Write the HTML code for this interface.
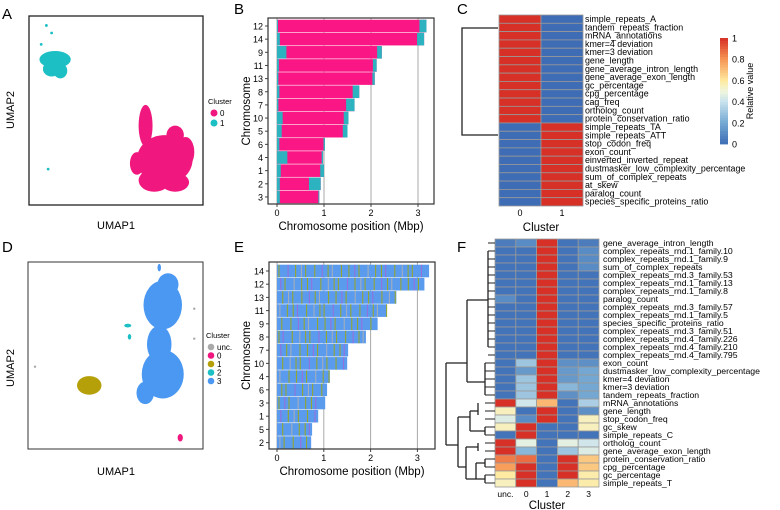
<!DOCTYPE html>
<html><head><meta charset="utf-8">
<style>
html,body{margin:0;padding:0;background:#fff;}
svg{display:block;font-family:"Liberation Sans",Arial,sans-serif;}
</style></head>
<body>
<svg id="fig" width="780" height="510" viewBox="0 0 780 510" xmlns="http://www.w3.org/2000/svg">
<g id="pA"></g>
<g id="pB"></g>
<g id="pC"></g>
<g id="pD"></g>
<g id="pE"></g>
<g id="pF"></g>
</svg>
<script>
const NS="http://www.w3.org/2000/svg";
function mk(p,tag,at,txt){const e=document.createElementNS(NS,tag);for(const k in at)e.setAttribute(k,at[k]);if(txt!==undefined)e.textContent=txt;p.appendChild(e);return e;}

// ---------- data ----------
const clusterColA=["#F0187E","#1BBFC4"];
const blobsA0=[[78,24,16,13],[67,42,4,11],[84,37,5,5],[72,13,9,6],[84,12,8,5],[62,22,4,6],[90,28,5,8]];
const blobsA1=[[15,77,9,4.5],[13,72,5,4],[18,71,4,4]];
const dotsA1=[[10,95],[13,91],[7,85],[11,19]];

const chromB=["12","14","9","11","13","8","7","10","5","6","4","1","2","3"];
const lenB=[3.18,3.13,2.23,2.12,2.08,1.75,1.65,1.52,1.5,1.02,0.98,1.0,0.93,0.9];
const cyanStartB=[0.02,0.06,0.2,0.04,0.03,0.05,0.03,0.12,0.1,0.05,0.22,0.08,0.06,0.06];
const cyanEndB=[0.15,0.15,0.1,0.08,0.05,0.14,0.18,0.1,0.1,0.03,0.03,0.08,0.25,0.02];
const xTicksB=[0,1,2,3];

const labelsC=["simple_repeats_A","tandem_repeats_fraction","mRNA_annotations","kmer=4 deviation","kmer=3 deviation","gene_length","gene_average_intron_length","gene_average_exon_length","gc_percentage","cpg_percentage","cag_freq","ortholog_count","protein_conservation_ratio","simple_repeats_TA","simple_repeats_ATT","stop_codon_freq","exon_count","einverted_inverted_repeat","dustmasker_low_complexity_percentage","sum_of_complex_repeats","at_skew","paralog_count","species_specific_proteins_ratio"];
const valC0=[1,1,1,1,1,1,1,1,1,1,1,1,1,0,0,0,0,0,0,0,0,0,0];
const valC1=[0,0,0,0,0,0,0,0,0,0,0,0,0,1,1,1,1,1,1,1,1,1,1];
const colTicksC=["0","1"];
const cbTicks=[0,0.2,0.4,0.6,0.8,1];

const clusterColD={"unc.":"#AAAAAA","0":"#F0187E","1":"#B5A00A","2":"#1BBFC4","3":"#4A98F2"};
const blobsD3=[[77,77,11,13],[75,56,7,10],[77,40,12,13],[67,30,5,6],[80,88,6,6],[75,97,1,2]];
const blobsD1=[[35,34,7,5]];
const blobsD0=[[87,6,1.5,2]];
const blobsD2=[[57,66,2,1],[58,60,1,1.5]];
const dotsDunc=[[4,44],[95,75],[95,59]];

const chromE=["14","12","13","11","9","8","7","10","4","6","3","1","5","2"];
const lenE=[3.25,3.15,2.55,2.35,2.15,1.9,1.52,1.5,1.13,1.07,1.03,0.88,0.75,0.73];

const labelsF=["gene_average_intron_length","complex_repeats_rnd.1_family.10","complex_repeats_rnd.1_family.9","sum_of_complex_repeats","complex_repeats_rnd.3_family.53","complex_repeats_rnd.1_family.13","complex_repeats_rnd.1_family.8","paralog_count","complex_repeats_rnd.3_family.57","complex_repeats_rnd.1_family.5","species_specific_proteins_ratio","complex_repeats_rnd.3_family.51","complex_repeats_rnd.4_family.226","complex_repeats_rnd.4_family.210","complex_repeats_rnd.4_family.795","exon_count","dustmasker_low_complexity_percentage","kmer=4 deviation","kmer=3 deviation","tandem_repeats_fraction","mRNA_annotations","gene_length","stop_codon_freq","gc_skew","simple_repeats_C","ortholog_count","gene_average_exon_length","protein_conservation_ratio","cpg_percentage","gc_percentage","simple_repeats_T"];
const colsF=["unc.","0","1","2","3"];
const fUnc=[0.05,0.02,0.02,0.02,0.02,0.02,0.02,0.1,0.02,0.02,0.02,0.02,0.02,0.02,0.02,0.02,0.02,0.02,0.02,0.02,1,0.55,0.45,0.55,0.02,1,1,0.85,0.78,0.6,0.55];
const f0=[0.1,0.02,0.02,0.02,0.02,0.02,0.02,0.02,0.02,0.02,0.02,0.02,0.02,0.02,0.02,0.3,0.15,0.3,0.3,0.3,0.42,0.02,0.1,1,1,0.47,0.25,0.88,1,1,1];
const f1=[1,1,1,1,1,1,1,1,1,1,1,1,1,1,1,1,1,1,1,1,0.72,1,1,0.02,0.02,0.02,0.02,0.02,0.02,0.02,0.02];
const f2=[0.02,0.02,0.02,0.02,0.02,0.02,0.02,0.02,0.02,0.02,0.02,0.02,0.02,0.02,0.02,0.12,0.15,0.15,0.25,0.12,0.02,0.02,0.02,0.02,0.02,0.47,0.3,1,1,1,0.72];
const f3=[0.05,0.1,0.1,0.1,0.02,0.02,0.02,0.02,0.02,0.02,0.02,0.02,0.02,0.02,0.02,0.12,0.2,0.2,0.2,0.2,0.33,0.12,0.55,0.55,0.02,0.42,0.45,0.68,0.68,0.58,0.58];

// ---------- helpers ----------
function heatColor(v){
  const stops=[[0,[62,109,181]],[0.2,[116,168,210]],[0.4,[200,226,238]],[0.5,[240,246,220]],[0.6,[254,234,160]],[0.8,[247,150,85]],[1,[215,48,39]]];
  for(let i=1;i<stops.length;i++){if(v<=stops[i][0]){const a=stops[i-1],b=stops[i];const t=(v-a[0])/(b[0]-a[0]);return "rgb("+a[1].map((c,j)=>Math.round(c+(b[1][j]-c)*t)).join(",")+")";}}
  return "rgb(215,48,39)";
}
function label(p,x,y,t,name){const e=mk(p,"text",{x:x,y:y,"font-size":15});e.textContent=t;}

// ---------- Panel A ----------
(function(){
  const g=document.getElementById("pA");
  const x0=29,x1=203,y0=16,y1=205;
  const sx=v=>x0+(x1-x0)*v/100, sy=v=>y1-(y1-y0)*v/100;
  label(g,2,19,"A","panel-label-a");
  [[blobsA0,clusterColA[0],'cluster-0-blob'],[blobsA1,clusterColA[1],'cluster-1-blob']].forEach(([bl,c,nm])=>{
    bl.forEach(b=>{const e=mk(g,"ellipse",{cx:sx(b[0]),cy:sy(b[1]),rx:(x1-x0)*b[2]/100,ry:(y1-y0)*b[3]/100,fill:c});
      });
  });
  dotsA1.forEach(d=>{const e=mk(g,"circle",{cx:sx(d[0]),cy:sy(d[1]),r:1.4,fill:clusterColA[1]});
    });
  const f=mk(g,"rect",{x:x0,y:y0,width:x1-x0,height:y1-y0,fill:"none",stroke:"#222","stroke-width":1.3});
  
  const xt=mk(g,"text",{x:116,y:229,"font-size":11,"text-anchor":"middle"},"UMAP1");
  const yt=mk(g,"text",{x:14,y:110,"font-size":11,"text-anchor":"middle",transform:"rotate(-90 14 110)"},"UMAP2");
  const lt=mk(g,"text",{x:208,y:104,"font-size":7.5},"Cluster");
  ["0","1"].forEach((k,i)=>{
    const c=mk(g,"circle",{cx:214,cy:113+i*10,r:3.5,fill:clusterColA[i]});
    const t=mk(g,"text",{x:220,y:116+i*10,"font-size":8},k);
  });
})();

// ---------- Chromosome panel helper ----------
function chromPanel(g,chroms,lens,opts){
  const x0=opts.x0,x1=opts.x1,y0=opts.y0,y1=opts.y1;
  const sx=v=>opts.zx+v*opts.k;
  const sy=i=>opts.rowY0+i*opts.step;
  [0,1,2,3].forEach(v=>{const l=mk(g,"line",{x1:sx(v),x2:sx(v),y1:y0,y2:y1,stroke:"#aaa","stroke-width":1});
    });
  chroms.forEach((c,i)=>{
    const yc=sy(i),h=opts.step-0.6;
    const r=mk(g,"rect",{x:sx(0),y:yc-h/2,width:sx(lens[i])-sx(0),height:h,fill:opts.base});
    
    opts.stripes(g,i,yc,h,sx,lens[i]);
    const t=mk(g,"text",{x:x0-5,y:yc+3.5,"font-size":9,"text-anchor":"end"},c);
    
    mk(g,"line",{x1:x0-3,x2:x0,y1:yc,y2:yc,stroke:"#444"});
  });
  xTicksB.forEach(v=>{
    mk(g,"line",{x1:sx(v),x2:sx(v),y1:y1,y2:y1+3,stroke:"#444"});
    const t=mk(g,"text",{x:sx(v),y:y1+12,"font-size":9,"text-anchor":"middle"},String(v));
    
  });
  const f=mk(g,"rect",{x:x0,y:y0,width:x1-x0,height:y1-y0,fill:"none",stroke:"#333","stroke-width":1.2});
  
  const xt=mk(g,"text",{x:(x0+x1)/2,y:y1+26,"font-size":11.5,"text-anchor":"middle"},"Chromosome position (Mbp)");
  
  const yc=(y0+y1)/2;
  const yt=mk(g,"text",{x:250,y:yc,"font-size":11.5,"text-anchor":"middle",transform:"rotate(-90 250 "+yc+")"},"Chromosome");
  
}

// ---------- Panel B ----------
(function(){
  const g=document.getElementById("pB");
  label(g,234,14,"B","panel-label-b");
  chromPanel(g,chromB,lenB,{x0:268,x1:434,y0:18,y1:204,zx:277,k:47,rowY0:26,step:13.15,base:"#FA1685",
    stripes:(g,i,yc,h,sx,L)=>{
      const a=mk(g,"rect",{x:sx(0),y:yc-h/2,width:sx(cyanStartB[i])-sx(0),height:h,fill:"#2DB3C0"});
      
      const b=mk(g,"rect",{x:sx(L-cyanEndB[i]),y:yc-h/2,width:sx(L)-sx(L-cyanEndB[i]),height:h,fill:"#2DB3C0"});
      
    }});
})();

// ---------- Panel E ----------
(function(){
  const g=document.getElementById("pE");
  label(g,234,252,"E","panel-label-e");
  const sc=["#9EA80F","#A06AD8","#9EA80F","#B0B0B0","#9EA80F"];
  chromPanel(g,chromE,lenE,{x0:269,x1:435,y0:262,y1:449,zx:277,k:46.8,rowY0:271,step:13.2,base:"#5A9BEE",
    stripes:(g,i,yc,h,sx,L)=>{
      let n=0;
      for(let p=0.03+((i*7)%5)*0.02;p<L-0.02;p+=0.09+((n*3+i)%4)*0.035){
        const s=mk(g,"rect",{x:sx(p),y:yc-h/2,width:1.1,height:h,fill:sc[(n+i)%5],opacity:0.85});
        n++;
      }
    }});
})();

// ---------- Panel D ----------
(function(){
  const g=document.getElementById("pD");
  const x0=28,x1=203,y0=262,y1=449;
  const sx=v=>x0+(x1-x0)*v/100, sy=v=>y1-(y1-y0)*v/100;
  label(g,2,252,"D","panel-label-d");
  [[blobsD3,"3"],[blobsD1,"1"],[blobsD0,"0"],[blobsD2,"2"]].forEach(([bl,k])=>{
    bl.forEach(b=>{const e=mk(g,"ellipse",{cx:sx(b[0]),cy:sy(b[1]),rx:(x1-x0)*b[2]/100,ry:(y1-y0)*b[3]/100,fill:clusterColD[k]});
      });
  });
  dotsDunc.forEach(d=>{const e=mk(g,"circle",{cx:sx(d[0]),cy:sy(d[1]),r:1.2,fill:clusterColD["unc."]});
    });
  const f=mk(g,"rect",{x:x0,y:y0,width:x1-x0,height:y1-y0,fill:"none",stroke:"#333","stroke-width":1});
  
  const xt=mk(g,"text",{x:116,y:475,"font-size":11,"text-anchor":"middle"},"UMAP1");
  const yt=mk(g,"text",{x:14,y:368,"font-size":11,"text-anchor":"middle",transform:"rotate(-90 14 368)"},"UMAP2");
  const lt=mk(g,"text",{x:206,y:338,"font-size":7.5},"Cluster");
  Object.keys(clusterColD).sort((a,b)=>a==="unc."?-1:b==="unc."?1:a-b).forEach((k,i)=>{
    const c=mk(g,"circle",{cx:211,cy:347+i*8.5,r:3.3,fill:clusterColD[k]});
    const t=mk(g,"text",{x:217,y:350+i*8.5,"font-size":8},k);
  });
})();

// ---------- Panel C ----------
(function(){
  const g=document.getElementById("pC");
  label(g,457,14,"C","panel-label-c");
  const x0=499,cw=42,y0=15,rh=(206-15)/labelsC.length;
  [valC0,valC1].forEach((vals,j)=>{
    vals.forEach((v,i)=>{
      const r=mk(g,"rect",{x:x0+j*cw,y:y0+i*rh,width:cw,height:rh,fill:heatColor(v),stroke:"#999","stroke-width":0.8});
      
    });
    const t=mk(g,"text",{x:x0+j*cw+cw/2,y:216,"font-size":9,"text-anchor":"middle"},colTicksC[j]);
    
  });
  labelsC.forEach((l,i)=>{const t=mk(g,"text",{x:585,y:y0+i*rh+rh-1.3,"font-size":8.9},l);
    });
  const ct=mk(g,"text",{x:541,y:231,"font-size":11.5,"text-anchor":"middle"},"Cluster");
  const d=mk(g,"path",{d:"M498 28 H462 V135 H498",fill:"none",stroke:"#222","stroke-width":1.3});
  
  // colorbar
  const cbx=720,cby0=38,cby1=144,n=40;
  for(let i=0;i<n;i++){const r=mk(g,"rect",{x:cbx,y:cby1-(i+1)*(cby1-cby0)/n,width:8,height:(cby1-cby0)/n+0.4,fill:heatColor((i+0.5)/n)});
    }
  cbTicks.forEach(v=>{const y=cby1-v*(cby1-cby0);
    const t=mk(g,"text",{x:732,y:y+3.5,"font-size":9},v===0||v===1?String(v):v.toFixed(1));
    });
  const rv=mk(g,"text",{x:753,y:91,"font-size":9,"text-anchor":"middle",transform:"rotate(-90 753 91)"},"Relative value");
  
})();

// ---------- Panel F ----------
(function(){
  const g=document.getElementById("pF");
  label(g,457,252,"F","panel-label-f");
  const x0=495,cw=20.8,y0=239,rh=(487-239)/labelsF.length;
  [fUnc,f0,f1,f2,f3].forEach((vals,j)=>{
    vals.forEach((v,i)=>{
      const r=mk(g,"rect",{x:x0+j*cw,y:y0+i*rh,width:cw,height:rh,fill:heatColor(v),stroke:"#999","stroke-width":0.8});
      
    });
    const t=mk(g,"text",{x:x0+j*cw+cw/2,y:497,"font-size":8.5,"text-anchor":"middle"},colsF[j]);
    
  });
  labelsF.forEach((l,i)=>{const t=mk(g,"text",{x:603,y:y0+i*rh+rh-1.2,"font-size":8.7},l);
    });
  const ct=mk(g,"text",{x:547,y:509,"font-size":11.5,"text-anchor":"middle"},"Cluster");
  const ry=i=>y0+i*rh+rh/2;
  const paths=[
    "M446 363 V445",
    "M446 363 H467 M467 300 V382",
    "M467 300 H488 M488 "+ry(1)+" V"+ry(13),
    "M467 382 H485 M485 "+ry(15)+" V"+ry(19),
    "M446 445 H458 M458 "+(ry(22)-2)+" V"+(ry(28)),
    "M458 "+(ry(22)-2)+" H470 M470 "+ry(21)+" V"+ry(23.5),
    "M470 "+ry(21)+" H478 M478 "+ry(20)+" V"+ry(21.5),
    "M470 "+ry(23.5)+" H485 M485 "+ry(23)+" V"+ry(24),
    "M458 "+ry(28)+" H466 M466 "+ry(25.5)+" V"+ry(29.5),
    "M466 "+ry(25.5)+" H478 M478 "+ry(25)+" V"+ry(26),
    "M466 "+ry(29.5)+" H476 M476 "+ry(27.5)+" V"+ry(29.5),
    "M476 "+ry(27.5)+" H485 M485 "+ry(27)+" V"+ry(28),
    "M476 "+ry(29.5)+" H485 M485 "+ry(29)+" V"+ry(30)
  ];
  paths.forEach(p=>{const e=mk(g,"path",{d:p,fill:"none",stroke:"#222","stroke-width":1.3});
    });
  for(let i=0;i<31;i++){const e=mk(g,"path",{d:"M"+(i<15?488:485)+" "+ry(i)+" H495",fill:"none",stroke:"#222","stroke-width":1});
    }
})();
</script>
</body></html>
